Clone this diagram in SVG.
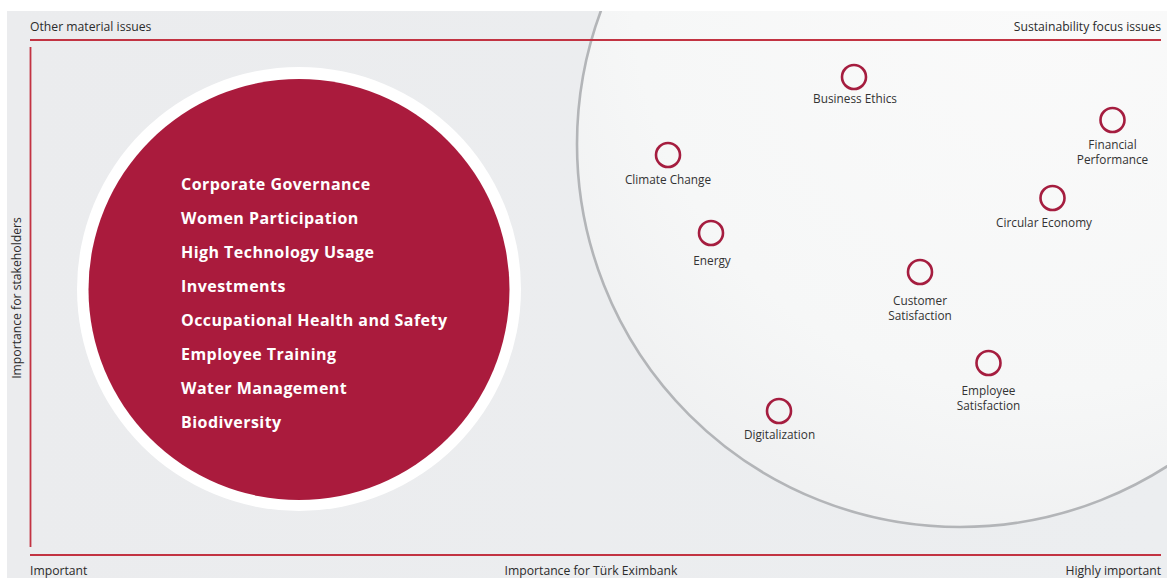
<svg xmlns="http://www.w3.org/2000/svg" width="1167" height="578" viewBox="0 0 1167 578">
  <style>
    .axis-label { font-family: "Open Sans", "Liberation Sans", sans-serif; font-size: 12.2px; fill: #2b2b2b; }
    .issue { font-family: "Open Sans", "Liberation Sans", sans-serif; font-size: 11.8px; fill: #333333; text-anchor: middle; }
    .focus { font-family: "Open Sans", "Liberation Sans", sans-serif; font-size: 16px; font-weight: bold; fill: #ffffff; letter-spacing: 0.45px; }
    .marker { fill: none; stroke: #a51d3f; stroke-width: 2.6; }
    .axis { stroke: #c23342; stroke-width: 1.8; fill: none; }
  </style>
  <defs>
    <clipPath id="panel-clip">
      <rect x="7" y="11" width="1160" height="567"/>
    </clipPath>
    <radialGradient id="focus-fill" cx="0.6" cy="0.3" r="0.75">
      <stop offset="0" stop-color="#fafafa"/>
      <stop offset="0.7" stop-color="#f6f7f7"/>
      <stop offset="1" stop-color="#eff0f1"/>
    </radialGradient>
    <linearGradient id="panel-fill" x1="0" y1="0" x2="1" y2="0">
      <stop offset="0" stop-color="#ebecee"/>
      <stop offset="1" stop-color="#eceef0"/>
    </linearGradient>
  </defs>

  <!-- page and panel background -->
  <rect x="0" y="0" width="1167" height="578" fill="#ffffff"/>
  <rect x="7" y="11" width="1160" height="567" fill="url(#panel-fill)"/>

  <!-- sustainability focus area -->
  <g id="focus-area" clip-path="url(#panel-clip)">
    <circle cx="960" cy="144" r="383" fill="url(#focus-fill)" stroke="#b3b5b8" stroke-width="2.6"/>
  </g>

  <!-- axes -->
  <g id="axes">
    <line class="axis" x1="30" y1="40" x2="1161" y2="40"/>
    <line class="axis" x1="30.5" y1="47" x2="30.5" y2="547"/>
    <line class="axis" x1="30" y1="555" x2="1161" y2="555"/>
  </g>

  <!-- axis labels -->
  <g id="axis-labels">
    <text class="axis-label" x="30" y="31">Other material issues</text>
    <text class="axis-label" x="1161" y="31" text-anchor="end">Sustainability focus issues</text>
    <text class="axis-label" x="30" y="575">Important</text>
    <text class="axis-label" x="591" y="575" text-anchor="middle">Importance for Türk Eximbank</text>
    <text class="axis-label" x="1161" y="575" text-anchor="end">Highly important</text>
    <text class="axis-label" transform="translate(21 298) rotate(-90)" text-anchor="middle">Importance for stakeholders</text>
  </g>

  <!-- other material issues -->
  <g id="other-material-issues">
    <circle cx="299" cy="289" r="222" fill="#ffffff"/>
    <circle cx="299" cy="289.5" r="210.5" fill="#aa1b3d"/>
    <text class="focus" x="181" y="190">Corporate Governance</text>
    <text class="focus" x="181" y="224">Women Participation</text>
    <text class="focus" x="181" y="258">High Technology Usage</text>
    <text class="focus" x="181" y="292">Investments</text>
    <text class="focus" x="181" y="326">Occupational Health and Safety</text>
    <text class="focus" x="181" y="360">Employee Training</text>
    <text class="focus" x="181" y="394">Water Management</text>
    <text class="focus" x="181" y="428">Biodiversity</text>
  </g>

  <!-- sustainability focus issues -->
  <g id="business-ethics">
    <circle class="marker" cx="854" cy="77" r="12"/>
    <text class="issue" x="855" y="103">Business Ethics</text>
  </g>
  <g id="financial-performance">
    <circle class="marker" cx="1112.5" cy="120" r="12"/>
    <text class="issue" x="1112.5" y="149">Financial</text>
    <text class="issue" x="1112.5" y="164">Performance</text>
  </g>
  <g id="climate-change">
    <circle class="marker" cx="668" cy="155" r="12"/>
    <text class="issue" x="668" y="184">Climate Change</text>
  </g>
  <g id="circular-economy">
    <circle class="marker" cx="1052.5" cy="198" r="12"/>
    <text class="issue" x="1044" y="227">Circular Economy</text>
  </g>
  <g id="energy">
    <circle class="marker" cx="711" cy="233" r="12"/>
    <text class="issue" x="712" y="265">Energy</text>
  </g>
  <g id="customer-satisfaction">
    <circle class="marker" cx="920" cy="272" r="12"/>
    <text class="issue" x="920" y="305">Customer</text>
    <text class="issue" x="920" y="320">Satisfaction</text>
  </g>
  <g id="employee-satisfaction">
    <circle class="marker" cx="988.5" cy="363" r="12"/>
    <text class="issue" x="988.5" y="395">Employee</text>
    <text class="issue" x="988.5" y="410">Satisfaction</text>
  </g>
  <g id="digitalization">
    <circle class="marker" cx="779" cy="411" r="12"/>
    <text class="issue" x="779.5" y="439">Digitalization</text>
  </g>
</svg>
